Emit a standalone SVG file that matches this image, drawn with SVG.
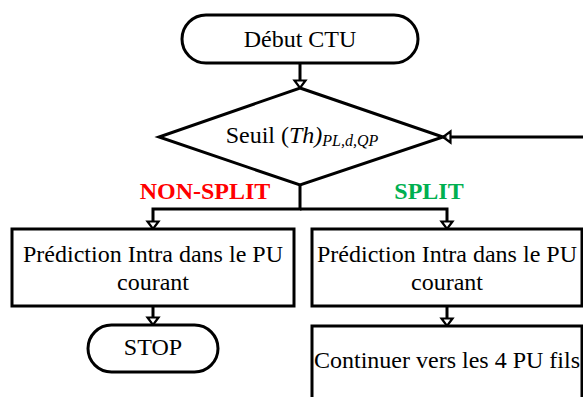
<svg xmlns="http://www.w3.org/2000/svg" width="583" height="397" viewBox="0 0 583 397">
<style>
.shape{fill:#fff;stroke:#000;stroke-width:3}
.conn{fill:none;stroke:#000;stroke-width:3}
.t{font-family:'Liberation Serif','Times New Roman','DejaVu Serif',serif;font-size:24px;fill:#000;text-anchor:middle}
.lbl{font-weight:bold;font-size:24px}
</style>
<defs>
<marker id="ah" viewBox="0 0 10 14" markerWidth="10" markerHeight="14" refX="9" refY="7" orient="auto" markerUnits="userSpaceOnUse" overflow="visible">
<path d="M1.5,1.5 L9,7 L1.5,12.5 z" fill="#fff" stroke="#000" stroke-width="2.2"/>
</marker>
</defs>
<rect width="583" height="397" fill="#fff"/>
<g id="connectors">
<path class="conn" d="M300,63 V88" marker-end="url(#ah)"/>
<path class="conn" d="M300,185 V209 H153 V229" marker-end="url(#ah)"/>
<path class="conn" d="M300,209 H447 V229" marker-end="url(#ah)"/>
<path class="conn" d="M153,306 V325" marker-end="url(#ah)"/>
<path class="conn" d="M447,306 V326" marker-end="url(#ah)"/>
<path class="conn" d="M585,137 H443" marker-end="url(#ah)"/>
</g>
<g id="debut">
<rect class="shape" x="182" y="15" width="236" height="48" rx="24"/>
<text class="t" x="300" y="47">Début CTU</text>
</g>
<g id="seuil">
<polygon class="shape" points="300,88 443,137 300,185 159,137"/>
<text class="t" x="302" y="143">Seuil (<tspan font-style="italic">Th)</tspan><tspan font-style="italic" font-size="16" dy="3">PL,d,QP</tspan></text>
</g>
<g id="label-nonsplit">
<text class="t lbl" x="205" y="199" style="fill:#ff0000">NON-SPLIT</text>
</g>
<g id="label-split">
<text class="t lbl" x="429" y="199" style="fill:#00b050">SPLIT</text>
</g>
<g id="pred-left">
<rect class="shape" x="12" y="229" width="282" height="77"/>
<text class="t" x="153" y="262">Prédiction Intra dans le PU</text>
<text class="t" x="153" y="290">courant</text>
</g>
<g id="stop">
<rect class="shape" x="88" y="325" width="130" height="47" rx="23.5"/>
<text class="t" x="153" y="355">STOP</text>
</g>
<g id="pred-right">
<rect class="shape" x="312" y="229" width="270" height="77"/>
<text class="t" x="447" y="262">Prédiction Intra dans le PU</text>
<text class="t" x="447" y="290">courant</text>
</g>
<g id="continuer">
<rect class="shape" x="312" y="326" width="270" height="80"/>
<text class="t" x="447" y="368">Continuer vers les 4 PU fils</text>
</g>
</svg>
